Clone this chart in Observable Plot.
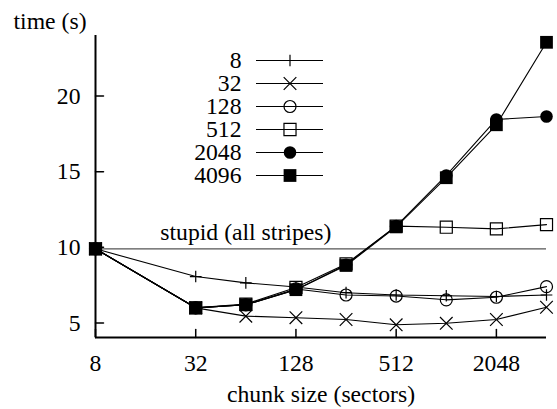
<!DOCTYPE html>
<html><head><meta charset="utf-8">
<script src="https://cdn.jsdelivr.net/npm/d3@7"></script>
<script src="https://cdn.jsdelivr.net/npm/@observablehq/plot@0.6"></script>
<style>
html,body{margin:0;padding:0;background:#fff;}
#chart{position:relative;width:557px;height:409px;overflow:hidden;}
#chart svg{position:absolute;left:0;top:0;}
#chart svg, #chart svg text{font-family:"Liberation Serif", serif;}
</style></head><body><div id="chart"></div>
<script>
// ---- data ----
const chunkSizes = [8, 32, 64, 128, 256, 512, 1024, 2048, 4096];
const seriesNames = ["8", "32", "128", "512", "2048", "4096"];
const s8    = [9.9, 8.07, 7.65, 7.38, 7.0, 6.85, 6.8, 6.75, 6.85];
const s32   = [9.9, 6.0, 5.45, 5.35, 5.23, 4.88, 4.98, 5.23, 6.04];
const s128  = [9.9, 6.0, 6.2, 7.25, 6.85, 6.78, 6.53, 6.7, 7.4];
const s512  = [9.9, 6.0, 6.25, 7.35, 8.9, 11.4, 11.33, 11.22, 11.5];
const s2048 = [9.9, 6.0, 6.2, 7.2, 8.85, 11.4, 14.75, 18.45, 18.65];
const s4096 = [9.9, 6.0, 6.2, 7.2, 8.8, 11.35, 14.6, 18.1, 23.55];
const stupidTime = [9.9];
const stupidLabel = ["stupid (all stripes)"];
const stupidLabelAt = 64;
const xTicks = [8, 32, 128, 512, 2048];
const yTicks = [5, 10, 15, 20];
const yLabel = ["time (s)"];
const xLabel = ["chunk size (sectors)"];

// ---- build ----
const seriesValues = [s8, s32, s128, s512, s2048, s4096];
const markers = {
  "8":    {symbol: "plus",   fill: "none",  stroke: "black", r: 3.85},
  "32":   {symbol: "times",  fill: "none",  stroke: "black", r: 5.8},
  "128":  {symbol: "circle", fill: "none",  stroke: "black", r: 6},
  "512":  {symbol: "square", fill: "none",  stroke: "black", r: 6.8},
  "2048": {symbol: "circle", fill: "black", stroke: "none",  r: 6.3},
  "4096": {symbol: "square", fill: "black", stroke: "none",  r: 7.2}
};
const table = seriesNames.flatMap((name, i) =>
  chunkSizes.map((c, j) => ({series: name, chunk: c, time: seriesValues[i][j]})));

const font = "Liberation Serif";
const fs = 23.7;
const yDomain = [4.04, 24.0];
const xDomain = [chunkSizes[0], chunkSizes[chunkSizes.length - 1]];
const tickShape = {draw(ctx, l) { ctx.moveTo(0, 0); ctx.lineTo(0, -l); }};

const seriesMarks = seriesNames.flatMap(name => {
  const rows = table.filter(d => d.series === name);
  const m = markers[name];
  return [
    Plot.line(rows, {x: "chunk", y: "time", stroke: "black", strokeWidth: 1.1}),
    Plot.dot(rows, {x: "chunk", y: "time", symbol: m.symbol, fill: m.fill, stroke: m.stroke, r: m.r, strokeWidth: 1.2})
  ];
});

const main = Plot.plot({
  width: 557, height: 409,
  marginLeft: 95, marginRight: 11, marginTop: 35, marginBottom: 72,
  x: {type: "log", base: 2, domain: xDomain, label: null},
  y: {domain: yDomain, label: null},
  style: {fontFamily: font, fontSize: fs + "px", color: "black", background: "white"},
  marks: [
    Plot.ruleY(stupidTime, {stroke: "#555", strokeWidth: 1.2}),
    Plot.text(stupidLabel, {x: () => stupidLabelAt, y: () => stupidTime[0], text: d => d, textAnchor: "middle", lineAnchor: "middle", dy: -16, fontSize: fs, fontFamily: font, fill: "black"}),
    ...seriesMarks,
    Plot.ruleX([xDomain[0]], {stroke: "black", strokeWidth: 2}),
    Plot.ruleY([yDomain[0]], {stroke: "black", strokeWidth: 2}),
    Plot.vector(yTicks, {x: () => xDomain[0], y: d => d, length: 8, rotate: 90, anchor: "start", shape: tickShape, stroke: "black", strokeWidth: 1.5}),
    Plot.vector(xTicks, {x: d => d, y: () => yDomain[0], length: 8, rotate: 0, anchor: "start", shape: tickShape, stroke: "black", strokeWidth: 1.5}),
    Plot.axisY(yTicks, {tickSize: 0, tickPadding: 15, fontSize: fs, fontFamily: font, label: null}),
    Plot.axisX(xTicks, {tickSize: 0, tickPadding: 17, fontSize: fs, fontFamily: font, label: null, tickFormat: d => String(d)}),
    Plot.text(yLabel, {frameAnchor: "top-left", text: d => d, textAnchor: "start", lineAnchor: "middle", dx: -82, dy: -14, fontSize: fs, fontFamily: font, fill: "black"}),
    Plot.text(xLabel, {frameAnchor: "bottom", text: d => d, textAnchor: "middle", lineAnchor: "middle", dy: 57, fontSize: fs, fontFamily: font, fill: "black"})
  ]
});

const legendMarks = [
  Plot.ruleY(seriesNames, {y: d => d, x1: () => 0, x2: () => 1, stroke: "black", strokeWidth: 1.1}),
  ...seriesNames.map(name => {
    const m = markers[name];
    return Plot.dot([name], {x: () => 0.5, y: d => d, symbol: m.symbol, fill: m.fill, stroke: m.stroke, r: m.r, strokeWidth: 1.2});
  }),
  Plot.text(seriesNames, {x: () => 0, y: d => d, text: d => d, dx: -15, textAnchor: "end", lineAnchor: "middle", fontSize: fs, fontFamily: font, fill: "black"})
];
const legend = Plot.plot({
  width: 557, height: 409, margin: 0,
  x: {domain: [0, 1], range: [256, 323], axis: null},
  y: {type: "point", domain: seriesNames, range: [57.7, 177.7], padding: 0, axis: null},
  style: {fontFamily: font, fontSize: fs + "px", color: "black", background: "transparent"},
  marks: legendMarks
});

const el = document.getElementById("chart");
el.appendChild(main);
el.appendChild(legend);
</script></body></html>
